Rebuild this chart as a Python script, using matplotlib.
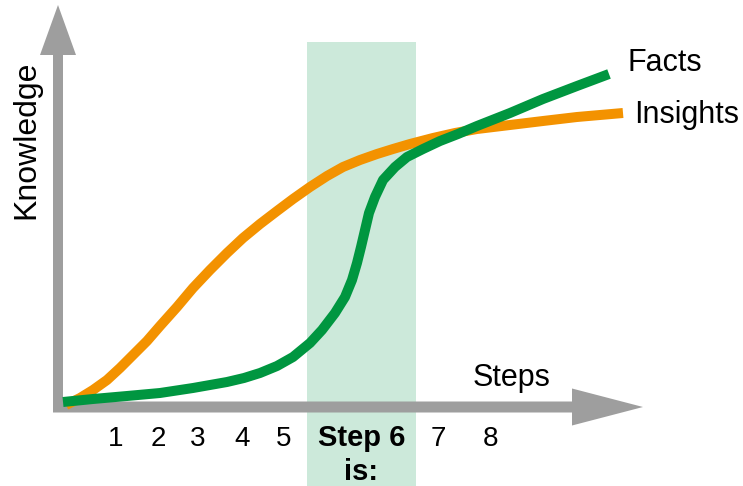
import matplotlib
matplotlib.use("Agg")
import matplotlib.pyplot as plt

plt.rcParams["font.family"] = ["Liberation Sans", "DejaVu Sans"]

# ---------------------------------------------------------
# DATA (x = position along the steps axis, y = knowledge
# height above the steps axis, both read off the picture)
# ---------------------------------------------------------
facts_x = [63, 93, 127, 160, 193, 227, 244, 260, 277, 293, 310, 322,
           335, 345, 352, 357, 361, 365, 369, 375, 383, 395, 407, 423,
           440, 458, 477, 510, 543, 577, 609]
facts_y = [5, 8, 11, 14, 19, 25, 29, 34, 41, 50, 64, 77,
           94, 110, 127, 144, 160, 177, 194, 210, 227, 240, 250, 258,
           266, 273, 281, 294, 308, 321, 333]

insights_x = [66, 80, 93, 107, 120, 133, 147, 160, 177, 193, 210, 227,
              243, 260, 277, 293, 310, 327, 343, 360, 377, 393, 410,
              433, 455, 477, 510, 543, 577, 623]
insights_y = [2, 9, 17, 27, 39, 52, 66, 81, 100, 119, 137, 154,
              169, 183, 196, 208, 220, 231, 240, 247, 253, 258, 263,
              269, 274, 278, 282, 286, 290, 294]

step_labels = ["1", "2", "3", "4", "5", "7", "8"]
step_pos = [116, 158, 198, 242, 284, 438, 490]
highlight_label = ["Step 6", "is:"]
highlight_span = (307, 416)

GRAY = "#9e9e9e"
ORANGE = "#f39200"
GREEN = "#009640"
BAND = "#cce9da"

# ---------------------------------------------------------
# FIGURE
# ---------------------------------------------------------
fig = plt.figure(figsize=(7.43, 4.86), dpi=100, facecolor="white")
ax = fig.add_axes([0, 0, 1, 1])
ax.set_xlim(0, 743)
ax.set_ylim(-79, 407)
ax.axis("off")

# highlighted step
ax.axvspan(*highlight_span, ymin=0, ymax=(365 + 79) / 486,
           color=BAND, lw=0, zorder=0)

# axes arrows
ax.arrow(53, 0, 590, 0, width=11, head_width=37, head_length=71,
         length_includes_head=True, color=GRAY, lw=0, zorder=2)
ax.arrow(58, -5, 0, 407, width=10, head_width=36, head_length=50,
         length_includes_head=True, color=GRAY, lw=0, zorder=2)

# curves
ax.plot(insights_x, insights_y, color=ORANGE, lw=7.2,
        solid_capstyle="butt", solid_joinstyle="round", zorder=3)
ax.plot(facts_x, facts_y, color=GREEN, lw=7.2,
        solid_capstyle="butt", solid_joinstyle="round", zorder=4)

# labels
ax.text(628, 336, "Facts", fontsize=22, ha="left", va="baseline")
ax.text(634, 284, "Insights", fontsize=22, ha="left", va="baseline")
ax.text(473, 21, "Steps", fontsize=22, ha="left", va="baseline")
ax.text(26.5, 267, "Knowledge", fontsize=23, rotation=90,
        ha="center", va="center")

for lab, x in zip(step_labels, step_pos):
    ax.text(x, -39, lab, fontsize=20, ha="center", va="baseline")
mid = sum(highlight_span) / 2
ax.text(mid, -39, highlight_label[0], fontsize=21, fontweight="bold",
        ha="center", va="baseline")
ax.text(mid, -73, highlight_label[1], fontsize=21, fontweight="bold",
        ha="center", va="baseline")

fig.savefig("out.png", dpi=100, facecolor="white")
